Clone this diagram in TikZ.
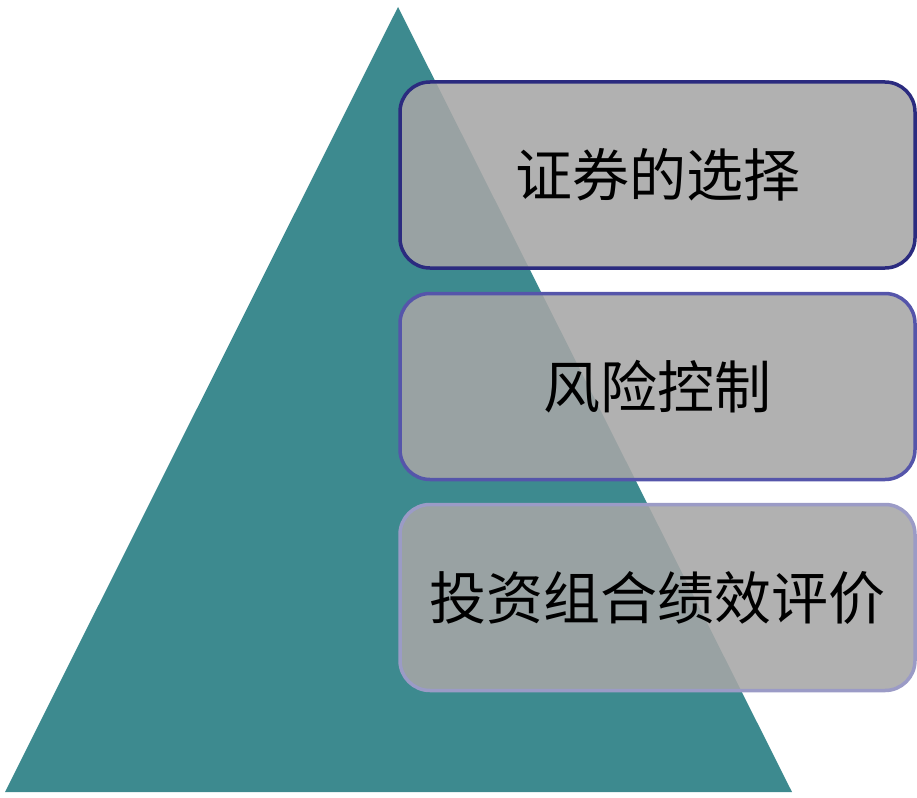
\documentclass[tikz,border=0pt]{standalone}
\usepackage{fontspec}
\newfontfamily\cjk{Noto Sans CJK SC}
\definecolor{teal1}{HTML}{3D8A8F}
\definecolor{boxfill}{HTML}{A6A6A6}
\definecolor{b1}{HTML}{2B2B7F}
\definecolor{b2}{HTML}{5555AA}
\definecolor{b3}{HTML}{9B9BC6}
\begin{document}
\begin{tikzpicture}[x=1pt,y=-1pt,
  layerbox/.style={draw, line width=3.5pt, fill=boxfill, fill opacity=0.88, text opacity=1, rounded corners=30pt, minimum width=515pt, minimum height=186pt, inner sep=0pt, font=\cjk\fontsize{57pt}{60pt}\selectfont, text=black}]
\useasboundingbox (0,0) rectangle (917,797);
\fill[teal1] (398,7) -- (792,792) -- (5,792) -- cycle;
\node[layerbox, draw=b1] (s1) at (657.5,175) {证券的选择};
\node[layerbox, draw=b2] (s2) at (657.5,386.5) {风险控制};
\node[layerbox, draw=b3] (s3) at (657.5,597.5) {投资组合绩效评价};
\end{tikzpicture}
\end{document}
